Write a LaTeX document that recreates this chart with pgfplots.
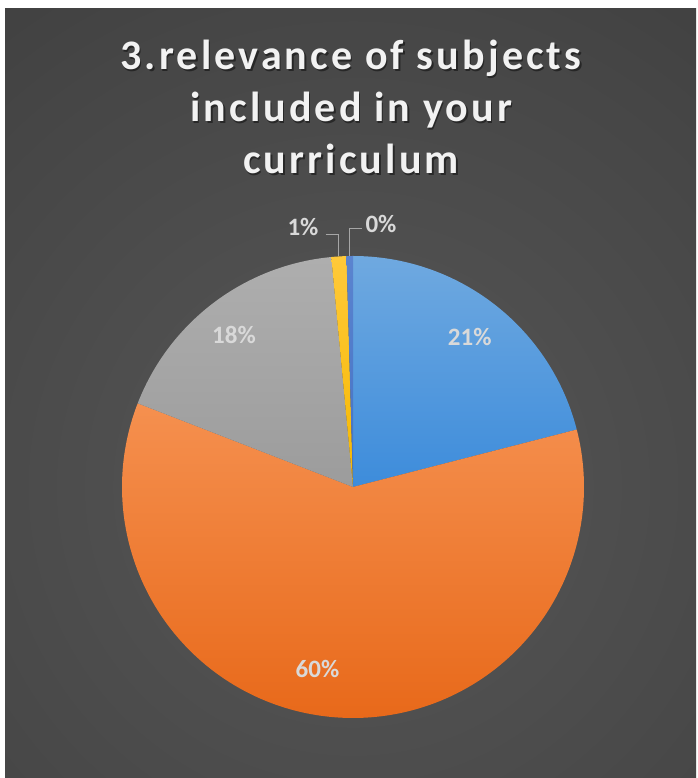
\documentclass[border=0pt]{standalone}
\usepackage{fontspec}
\setmainfont{Carlito}
\newfontfamily\titlefont[LetterSpace=7.5]{Carlito}
\usepackage{pgfplots}
\pgfplotsset{compat=1.18}
\usepackage{pgfplotstable}

\definecolor{bgA}{HTML}{575757}
\definecolor{bgB}{HTML}{464646}
\definecolor{bgC}{HTML}{363636}
\definecolor{bgD}{HTML}{272727}
\definecolor{lbl}{HTML}{D9D9D9}
\definecolor{lead}{HTML}{A6A6A6}
\definecolor{blueT}{HTML}{6FA9E0}
\definecolor{blueB}{HTML}{3D8CDB}
\definecolor{orT}{HTML}{F5904F}
\definecolor{orB}{HTML}{E8691A}
\definecolor{grT}{HTML}{AEAEAE}
\definecolor{grB}{HTML}{9C9C9C}
\definecolor{yeT}{HTML}{FFC93A}
\definecolor{yeB}{HTML}{F5B800}
\definecolor{dbT}{HTML}{5B84CF}
\definecolor{dbB}{HTML}{4472C4}

\pgfdeclareradialshading{bgshade}{\pgfpoint{0bp}{0bp}}{%
  color(0bp)=(bgA); color(20bp)=(bgB); color(36bp)=(bgC); color(50bp)=(bgD)}

\pgfplotstableread{
label value
A 21.0
B 59.9
C 17.6
D 1.05
E 0.45
}\piedata
\pgfplotstablegetelem{0}{value}\of\piedata \let\vA\pgfplotsretval
\pgfplotstablegetelem{1}{value}\of\piedata \let\vB\pgfplotsretval
\pgfplotstablegetelem{2}{value}\of\piedata \let\vC\pgfplotsretval
\pgfplotstablegetelem{3}{value}\of\piedata \let\vD\pgfplotsretval
\pgfplotstablegetelem{4}{value}\of\piedata \let\vE\pgfplotsretval
\pgfmathsetmacro\aA{90}
\pgfmathsetmacro\aB{\aA-3.6*\vA}
\pgfmathsetmacro\aC{\aB-3.6*\vB}
\pgfmathsetmacro\aD{\aC-3.6*\vC}
\pgfmathsetmacro\aE{\aD-3.6*\vD}
\pgfmathsetmacro\aF{\aE-3.6*\vE}

\begin{document}
\begin{tikzpicture}[x=1pt,y=1pt]
  \useasboundingbox (0,0) rectangle (697,778);
  \fill[white] (0,0) rectangle (697,778);
  \begin{scope}
    \clip (5,0) rectangle (696,769);
    \shade[shading=bgshade] (353,291) circle (600);
  \end{scope}
  % title
  \foreach \yy/\txt in {708/{3.relevance of subjects}, 656/{included in your}, 604/{curriculum}}{
    \node[anchor=base, text=black, opacity=0.45, font=\titlefont\bfseries\fontsize{42}{50}\selectfont] at (352.5,\yy-1.5) {\txt};
    \node[anchor=base, text=white!95!black, font=\titlefont\bfseries\fontsize{42}{50}\selectfont] at (351,\yy) {\txt};
  }
  \begin{axis}[at={(0,0)}, anchor=south west, width=697pt, height=778pt,
    scale only axis, xmin=0, xmax=697, ymin=0, ymax=778, hide axis, clip=false]
    \addplot[draw=none, top color=blueT, bottom color=blueB, domain=\aB:\aA, samples=80]
      ({353+231*cos(x)},{291+231*sin(x)}) -- (axis cs:353,291) -- cycle;
    \addplot[draw=none, top color=orT, bottom color=orB, domain=\aC:\aB, samples=200]
      ({353+231*cos(x)},{291+231*sin(x)}) -- (axis cs:353,291) -- cycle;
    \addplot[draw=none, top color=grT, bottom color=grB, domain=\aD:\aC, samples=80]
      ({353+231*cos(x)},{291+231*sin(x)}) -- (axis cs:353,291) -- cycle;
    \addplot[draw=none, top color=yeT, bottom color=yeB, domain=\aE:\aD, samples=10]
      ({353+231*cos(x)},{291+231*sin(x)}) -- (axis cs:353,291) -- cycle;
    \addplot[draw=none, top color=dbT, bottom color=dbB, domain=\aF:\aE, samples=10]
      ({353+231*cos(x)},{291+231*sin(x)}) -- (axis cs:353,291) -- cycle;
    % leader lines
    \addplot[lead, line width=1.4pt] coordinates {(325.7,543.7) (338.3,543.7) (338.3,522)};
    \addplot[lead, line width=1.4pt] coordinates {(349.3,522) (349.3,549.7) (361.7,549.7)};
    % labels
    \node[text=lbl, font=\bfseries\fontsize{25}{30}\selectfont] at (axis cs:469.7,441.5) {21\%};
    \node[text=lbl, font=\bfseries\fontsize{25}{30}\selectfont] at (axis cs:317.5,109.5) {60\%};
    \node[text=lbl, font=\bfseries\fontsize{25}{30}\selectfont] at (axis cs:234,443) {18\%};
    \node[text=lbl, font=\bfseries\fontsize{25}{30}\selectfont] at (axis cs:303,551) {1\%};
    \node[text=lbl, font=\bfseries\fontsize{25}{30}\selectfont] at (axis cs:381,554.5) {0\%};
  \end{axis}
\end{tikzpicture}
\end{document}
